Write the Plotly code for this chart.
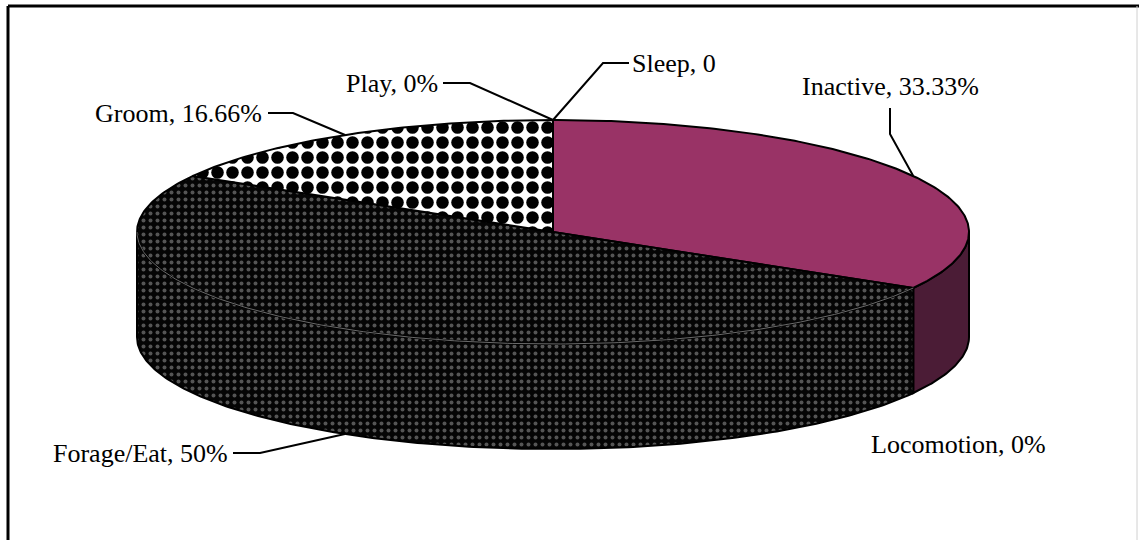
import numpy as np
import plotly.graph_objects as go

# Activity budget (percent of observations), clockwise from 12 o'clock
categories = ["Inactive", "Locomotion", "Forage/Eat", "Groom", "Play", "Sleep"]
values = [33.33, 0, 50, 16.66, 0, 0]
label_texts = ["Inactive, 33.33%", "Locomotion, 0%", "Forage/Eat, 50%",
               "Groom, 16.66%", "Play, 0%", "Sleep, 0"]

# Styling per slice
top_colors = ["#993366", "#993366", "#080808", "#ffffff", "#ffffff", "#ffffff"]
side_colors = ["#4b1c36", "#4b1c36", "#080808", "#ffffff", "#ffffff", "#ffffff"]

FONT = "Times New Roman"

W, H = 1139, 540
CX, CY = 553, 232      # centre of the top face
RX, RY = 416, 112      # ellipse radii of the tilted disc
DEPTH = 105            # thickness of the disc


def pt(theta_deg, drop=0.0):
    t = np.radians(theta_deg)
    return CX + RX * np.sin(t), CY - RY * np.cos(t) + drop


def arc(a, b, drop=0.0, n=None):
    n = n or max(8, int(abs(b - a) * 1.5))
    th = np.linspace(a, b, n)
    xs, ys = pt(th, drop)
    return list(xs), list(ys)


total = sum(values)
angles = [0.0]
for v in values:
    angles.append(angles[-1] + 360.0 * v / total)

patterns = {
    "Forage/Eat": dict(shape=".", fgcolor="#555555", bgcolor="#050505",
                       size=7, solidity=0.25, fillmode="replace"),
    "Groom": dict(shape=".", fgcolor="#000000", bgcolor="#ffffff",
                  size=15, solidity=0.55, fillmode="replace", fgopacity=1),
}

fig = go.Figure()

# Side walls of the visible front half (90..270 degrees)
for i, cat in enumerate(categories):
    a, b = angles[i], angles[i + 1]
    lo, hi = max(a, 90), min(b, 270)
    if values[i] <= 0 or hi <= lo:
        continue
    tx, ty = arc(lo, hi)
    bx, by = arc(hi, lo, DEPTH)
    xs = tx + bx + [tx[0]]
    ys = ty + by + [ty[0]]
    kw = dict(fillcolor=side_colors[i])
    if cat in patterns:
        kw["fillpattern"] = patterns[cat]
    fig.add_trace(go.Scatter(x=xs, y=ys, mode="lines", fill="toself",
                             line=dict(color="#000000", width=2),
                             hoverinfo="skip", showlegend=False, **kw))

# Top faces
for i, cat in enumerate(categories):
    a, b = angles[i], angles[i + 1]
    if values[i] <= 0:
        continue
    ax_, ay_ = arc(a, b)
    xs = [CX] + ax_ + [CX]
    ys = [CY] + ay_ + [CY]
    kw = dict(fillcolor=top_colors[i])
    if cat in patterns:
        kw["fillpattern"] = patterns[cat]
    fig.add_trace(go.Scatter(x=xs, y=ys, mode="lines", fill="toself",
                             line=dict(color="#000000", width=2),
                             hoverinfo="skip", showlegend=False, **kw))

# Faint rim where the top face meets the patterned wall
rx_, ry_ = arc(angles[2], 270)
fig.add_trace(go.Scatter(x=rx_, y=ry_, mode="lines",
                         line=dict(color="#6a6a6a", width=1),
                         hoverinfo="skip", showlegend=False))

# Label placement: (text x, text y, anchor, elbow points before the slice)
mid = [(angles[i] + angles[i + 1]) / 2 for i in range(len(values))]
label_layout = {
    "Inactive": dict(x=890, y=86, xanchor="center", path=[(890, 108), (890, 134)], drop=0),
    "Locomotion": dict(x=958, y=444, xanchor="center", path=None, drop=0),
    "Forage/Eat": dict(x=230, y=453, xanchor="right", path=[(233, 453), (260, 453)], drop=DEPTH),
    "Groom": dict(x=264, y=113, xanchor="right", path=[(268, 113), (293, 113)], drop=0),
    "Play": dict(x=440, y=83, xanchor="right", path=[(443, 83), (470, 83)], drop=0),
    "Sleep": dict(x=630, y=63, xanchor="left", path=[(629, 63), (603, 63)], drop=0),
}

for i, cat in enumerate(categories):
    lay = label_layout[cat]
    if lay["path"]:
        px, py = pt(mid[i], lay["drop"])
        xs = [p[0] for p in lay["path"]] + [px]
        ys = [p[1] for p in lay["path"]] + [py]
        fig.add_trace(go.Scatter(x=xs, y=ys, mode="lines",
                                 line=dict(color="#000000", width=2),
                                 hoverinfo="skip", showlegend=False))
    fig.add_annotation(x=lay["x"], y=lay["y"], text=label_texts[i],
                       xanchor=lay["xanchor"], yanchor="middle",
                       showarrow=False,
                       font=dict(family=FONT, size=26, color="#000000"))

# Chart area frame
fig.add_shape(type="line", x0=8, y0=6, x1=W, y1=6, line=dict(color="#000000", width=3))
fig.add_shape(type="line", x0=8, y0=6, x1=8, y1=H + 5, line=dict(color="#000000", width=3))
fig.add_shape(type="line", x0=1137, y0=6, x1=1137, y1=H + 5, line=dict(color="#d0d0d0", width=1))

fig.update_layout(
    width=W, height=H,
    margin=dict(l=0, r=0, t=0, b=0),
    paper_bgcolor="#ffffff", plot_bgcolor="#ffffff",
    font=dict(family=FONT),
    xaxis=dict(range=[0, W], visible=False, fixedrange=True),
    yaxis=dict(range=[H, 0], visible=False, fixedrange=True),
)

fig.write_html("out.html")
